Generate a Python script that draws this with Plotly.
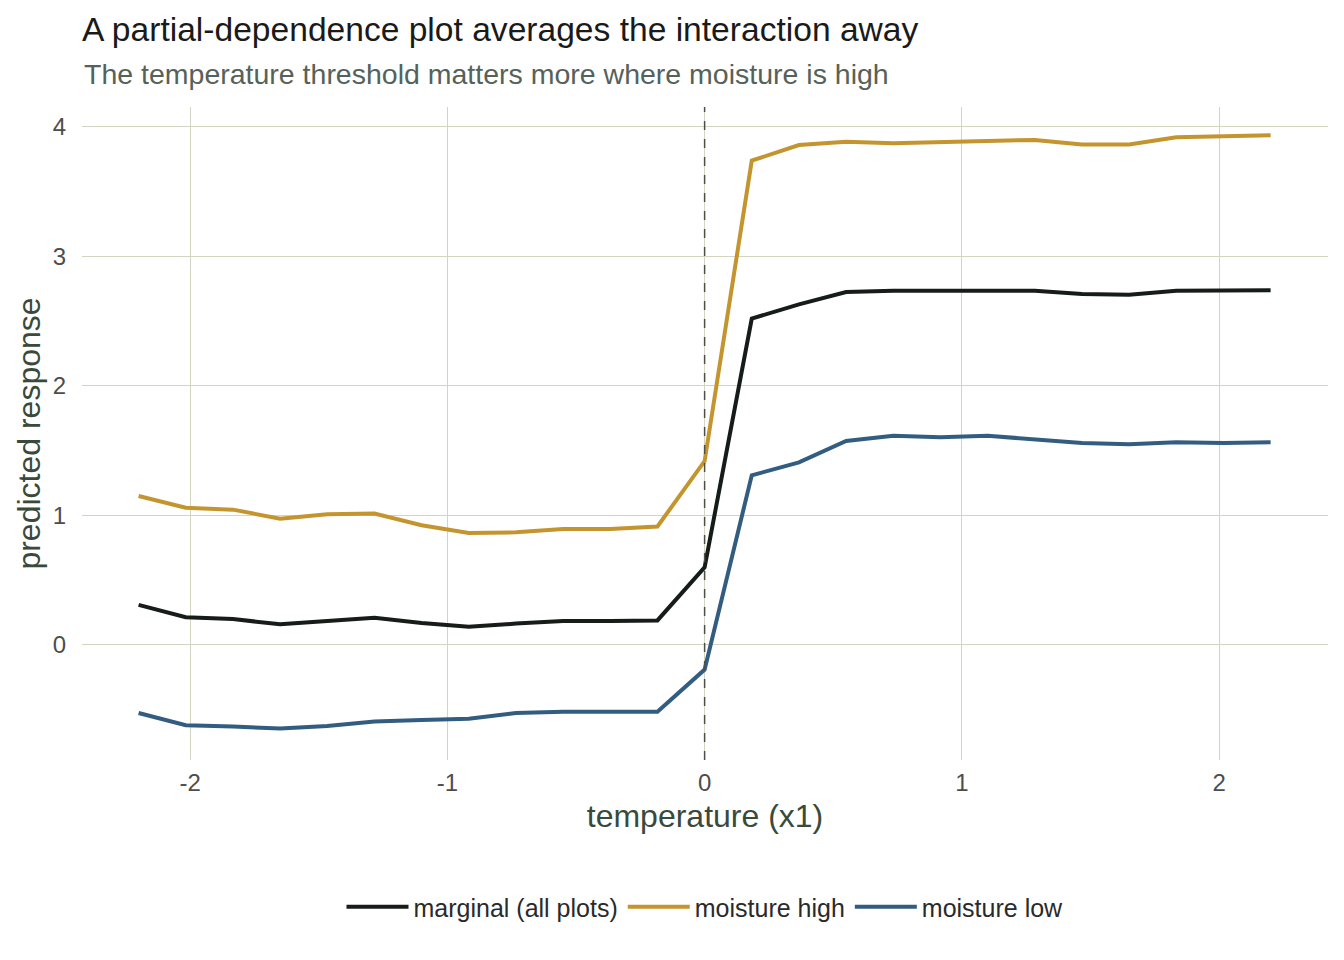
import plotly.graph_objects as go

temperature = [-2.2, -2.0167, -1.8333, -1.65, -1.4667, -1.2833, -1.1, -0.9167, -0.7333,
               -0.55, -0.3667, -0.1833, 0.0, 0.1833, 0.3667, 0.55, 0.7333, 0.9167,
               1.1, 1.2833, 1.4667, 1.65, 1.8333, 2.0167, 2.2]

marginal = [0.31, 0.215, 0.20, 0.16, 0.185, 0.21, 0.17, 0.14, 0.165, 0.185, 0.185, 0.19,
            0.60, 2.52, 2.63, 2.725, 2.735, 2.735, 2.74, 2.735, 2.71, 2.705, 2.735, 2.735, 2.74]

moisture_high = [1.15, 1.06, 1.045, 0.975, 1.01, 1.015, 0.925, 0.865, 0.87, 0.895, 0.895, 0.915,
                 1.42, 3.74, 3.86, 3.885, 3.875, 3.885, 3.89, 3.90, 3.865, 3.865, 3.92, 3.925, 3.935]

moisture_low = [-0.525, -0.62, -0.63, -0.645, -0.625, -0.59, -0.58, -0.57, -0.525, -0.515, -0.515, -0.515,
                -0.19, 1.31, 1.41, 1.575, 1.615, 1.605, 1.615, 1.59, 1.56, 1.55, 1.565, 1.56, 1.565]

series_names = ["marginal (all plots)", "moisture high", "moisture low"]
series_colors = ["#161c18", "#c4952f", "#335d80"]
threshold = 0.0

FONT = "Liberation Sans, Arial, Helvetica, sans-serif"
GRID = "#d4d4c2"

fig = go.Figure()
for name, vals, col in zip(series_names, [marginal, moisture_high, moisture_low], series_colors):
    fig.add_trace(go.Scatter(x=temperature, y=vals, mode="lines", name=name,
                             line=dict(color=col, width=4)))

fig.add_shape(type="line", x0=threshold, x1=threshold, xref="x", yref="paper", y0=0, y1=1,
              line=dict(color="#4a5048", width=1.5, dash="dash"))

# layout geometry
L, R, T, B = 82, 16, 107, 200
H = 960
plot_h = H - T - B

def py(pix):
    return (H - B - pix) / plot_h

fig.update_layout(
    width=1344, height=960,
    margin=dict(l=L, r=R, t=T, b=B),
    paper_bgcolor="white", plot_bgcolor="white",
    font=dict(family=FONT, color="#4d4d4d"),
    title=dict(text="A partial-dependence plot averages the interaction away",
               x=0, xanchor="left", xref="paper", y=1 - 29 / H, yanchor="middle",
               font=dict(size=33.6, color="#1a1a1a", family=FONT)),
    showlegend=True,
    legend=dict(orientation="h", x=0.5, xanchor="center", y=py(907), yanchor="middle",
                font=dict(size=25, color="#2a2a2a", family=FONT), itemwidth=62,
                bgcolor="rgba(0,0,0,0)"),
    xaxis=dict(range=[-2.42, 2.423], tickvals=[-2, -1, 0, 1, 2], ticktext=["-2", "-1", "0", "1", "2"],
               showgrid=True, gridcolor=GRID, gridwidth=1.3, zeroline=False, showline=False,
               ticks="outside", ticklen=1, tickcolor="rgba(0,0,0,0)", automargin=False,
               tickfont=dict(size=24, color="#4d4d4d"),
               title=dict(text="temperature (x1)", font=dict(size=32, color="#3a4a3a"), standoff=9)),
    yaxis=dict(range=[-0.888, 4.154], tickvals=[0, 1, 2, 3, 4], ticktext=["0", "1", "2", "3", "4"],
               showgrid=True, gridcolor=GRID, gridwidth=1.3, zeroline=False, showline=False,
               ticks="outside", ticklen=10, tickcolor="rgba(0,0,0,0)", automargin=False,
               tickfont=dict(size=24, color="#4d4d4d"),
               title=dict(text="predicted response", font=dict(size=32, color="#3a4a3a"), standoff=2)),
    annotations=[dict(text="The temperature threshold matters more where moisture is high",
                      xref="paper", yref="paper", x=0, y=py(74), xanchor="left", yanchor="middle",
                      showarrow=False, font=dict(size=28.5, color="#55625a", family=FONT))],
)

fig.write_html("out.html")
